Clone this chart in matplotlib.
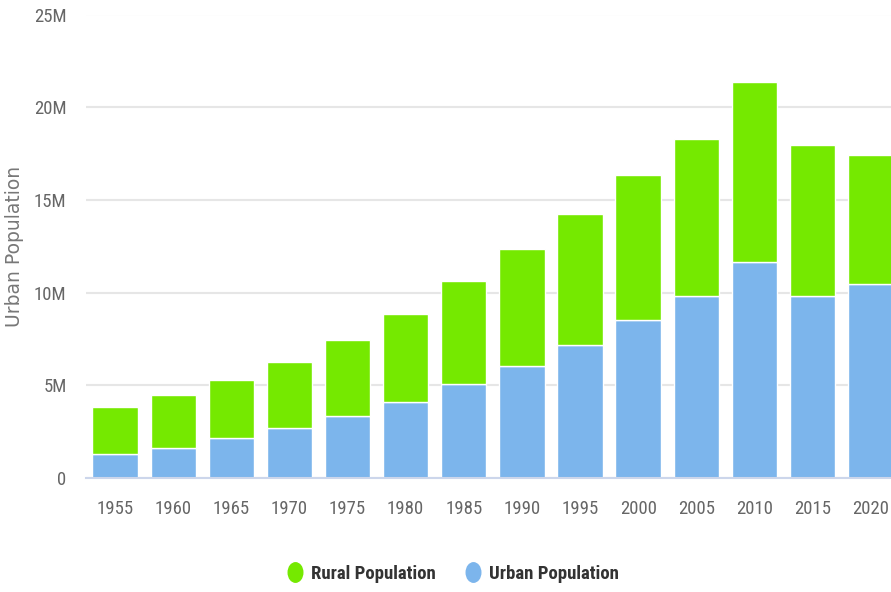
import numpy as np
from matplotlib import pyplot as plt
from matplotlib import font_manager
from matplotlib.path import Path
from matplotlib.transforms import Affine2D
from matplotlib.ticker import FuncFormatter
from matplotlib.lines import Line2D

years = ["1955", "1960", "1965", "1970", "1975", "1980", "1985",
         "1990", "1995", "2000", "2005", "2010", "2015", "2020"]
# millions
urban = [1.27, 1.60, 2.14, 2.70, 3.32, 4.10, 5.08, 6.05, 7.16, 8.50, 9.80, 11.65, 9.80, 10.46]
rural = [2.57, 2.90, 3.13, 3.54, 4.12, 4.75, 5.52, 6.28, 7.08, 7.83, 8.50, 9.73, 8.16, 6.95]

def pick_font(names):
    for n in names:
        try:
            font_manager.findfont(n, fallback_to_default=False)
            return n
        except Exception:
            pass
    return "DejaVu Sans"

narrow = pick_font(["Liberation Sans Narrow", "Roboto Condensed", "Liberation Sans"])

urban_v = np.array(urban) * 1e6
rural_v = np.array(rural) * 1e6
x = np.arange(len(years))

fig = plt.figure(figsize=(8.91, 5.92), dpi=100)
ax = fig.add_axes([86/891, 1 - 478/592, 1 - 86/891, (478 - 14.5)/592])

ax.bar(x, urban_v, width=0.78, color="#7cb5ec", edgecolor="white", linewidth=1, zorder=3)
ax.bar(x, rural_v, width=0.78, bottom=urban_v, color="#75e900", edgecolor="white", linewidth=1, zorder=3)

ax.set_xlim(-0.5, 13.35)
ax.set_ylim(0, 25e6)
ax.set_yticks(np.arange(0, 26e6, 5e6))
ax.yaxis.set_major_formatter(FuncFormatter(lambda v, p: "0" if v == 0 else f"{int(v/1e6)}M"))
ax.set_xticks(x)
ax.set_xticklabels(years)

ax.grid(axis="y", color="#e6e6e6", linewidth=1.5, zorder=0)
ax.set_axisbelow(True)
for s in ["top", "right", "left"]:
    ax.spines[s].set_visible(False)
ax.spines["bottom"].set_color("#ccd6eb")
ax.spines["bottom"].set_linewidth(1.5)
ax.spines["bottom"].set_zorder(4)

ax.tick_params(axis="both", length=0, labelcolor="#666666")
ax.tick_params(axis="y", pad=14)
ax.tick_params(axis="x", pad=16)
for lab in ax.get_xticklabels() + ax.get_yticklabels():
    lab.set_fontfamily(narrow)
    lab.set_fontsize(13.5)

fig.text(15/891, 1 - 246/592, "Urban Population", rotation=90, ha="center", va="center",
         color="#777777", fontsize=13.5, family="DejaVu Sans")

# legend with slightly tall dots like the reference
dot = Path.unit_circle().transformed(Affine2D().scale(0.75, 1.0))
handles = [Line2D([], [], marker=dot, linestyle="none", markersize=14, color="#75e900"),
           Line2D([], [], marker=dot, linestyle="none", markersize=14, color="#7cb5ec")]
fig.legend(handles, ["Rural Population", "Urban Population"], loc="center",
           bbox_to_anchor=(452/891, 1 - 574/592), ncol=2, frameon=False,
           handletextpad=0.35, columnspacing=1.5, handlelength=1.0,
           prop={"family": narrow, "weight": "bold", "size": 13.5}, labelcolor="#333333")

fig.savefig("out.png", dpi=100)
